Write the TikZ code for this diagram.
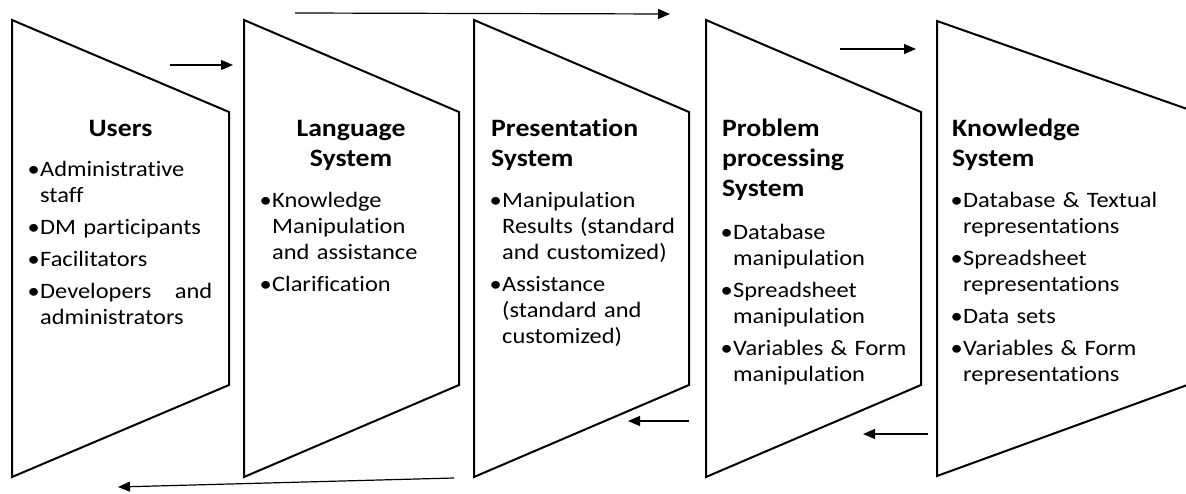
\documentclass[tikz,border=0pt]{standalone}
\usepackage{fontspec}
\setmainfont{Carlito}[FakeStretch=1.11, Ligatures={NoCommon}, RawFeature={-liga;-clig;-dlig}]
\usetikzlibrary{arrows.meta}
\tikzset{
  panel/.style={draw=black, line width=2pt, line join=miter, fill=white},
  flow/.style={draw=black, line width=1.2pt, -{Triangle[length=12pt,width=10pt]}},
  ttl/.style={inner sep=0pt, anchor=base, text width=200pt, align=center, font=\fontsize{25}{30}\selectfont\bfseries},
  ttlL/.style={inner sep=0pt, anchor=base west, text width=200pt, align=left, font=\fontsize{25}{30}\selectfont\bfseries},
  body/.style={inner sep=0pt, anchor=base west, font=\fontsize{22}{26}\selectfont}
}
\newcommand{\bul}{\makebox[10pt][l]{\hspace*{-2.5pt}•}}
\newcommand{\cnt}{\hspace*{10pt}}
\begin{document}
\begin{tikzpicture}[x=1pt,y=-1pt]
\useasboundingbox (0,0) rectangle (1186,494);
\clip (0,0) rectangle (1186,494);
% panels
\draw[panel] (12,20) -- (229,112) -- (229,385) -- (12,477) -- cycle;
\draw[panel] (244,20) -- (459,112) -- (459,385) -- (244,477) -- cycle;
\draw[panel] (474,20) -- (689,112) -- (689,385) -- (474,477) -- cycle;
\draw[panel] (706,20) -- (921,112) -- (921,385) -- (706,477) -- cycle;
\draw[panel] (937,21) -- (1190,110) -- (1190,384) -- (937,476) -- cycle;
% titles
\node[ttl] (t1) at (120.5,137) {Users};
\node[ttl] (t2) at (351,137) {Language\\System};
\node[ttlL] (t3) at (491,137) {Presentation\\System};
\node[ttlL] (t4) at (722,137) {Problem\\processing\\System};
\node[ttlL] (t5) at (952,137) {Knowledge\\System};
% bodies
\node[body, text width=182pt] (b1) at (30,177) {%
\bul Administrative\\
\cnt staff\\[6pt]
\bul DM participants\\[6pt]
\bul Facilitators\\[6pt]
\bul Developers\hfill and\\
\cnt administrators};
\node[body, text width=190pt] (b2) at (262,208) {%
\bul Knowledge\\
\cnt Manipulation\\
\cnt and assistance\\[6pt]
\bul Clarification};
\node[body, text width=190pt] (b3) at (492,208) {%
\bul Manipulation\\
\cnt Results (standard\\
\cnt and customized)\\[6pt]
\bul Assistance\\
\cnt (standard and\\
\cnt customized)};
\node[body, text width=190pt] (b4) at (723,240) {%
\bul Database\\
\cnt manipulation\\[6pt]
\bul Spreadsheet\\
\cnt manipulation\\[6pt]
\bul Variables \& Form\\
\cnt manipulation};
\node[body, text width=220pt] (b5) at (953,208) {%
\bul Database \& Textual\\
\cnt representations\\[6pt]
\bul Spreadsheet\\
\cnt representations\\[6pt]
\bul Data sets\\[6pt]
\bul Variables \& Form\\
\cnt representations};
% arrow end points
\coordinate (a1s) at (170,65);  \coordinate (a1e) at (233,65);
\coordinate (a2s) at (295,13);  \coordinate (a2e) at (670,14);
\coordinate (a3s) at (840,49);  \coordinate (a3e) at (916,49);
\coordinate (a4s) at (689,421); \coordinate (a4e) at (628,421);
\coordinate (a5s) at (928,434); \coordinate (a5e) at (863,434);
\coordinate (a6s) at (454,478); \coordinate (a6e) at (118,487);
\draw[flow] (a1s) -- (a1e);
\draw[flow] (a2s) -- (a2e);
\draw[flow] (a3s) -- (a3e);
\draw[flow] (a4s) -- (a4e);
\draw[flow] (a5s) -- (a5e);
\draw[flow] (a6s) -- (a6e);
\end{tikzpicture}
\end{document}
